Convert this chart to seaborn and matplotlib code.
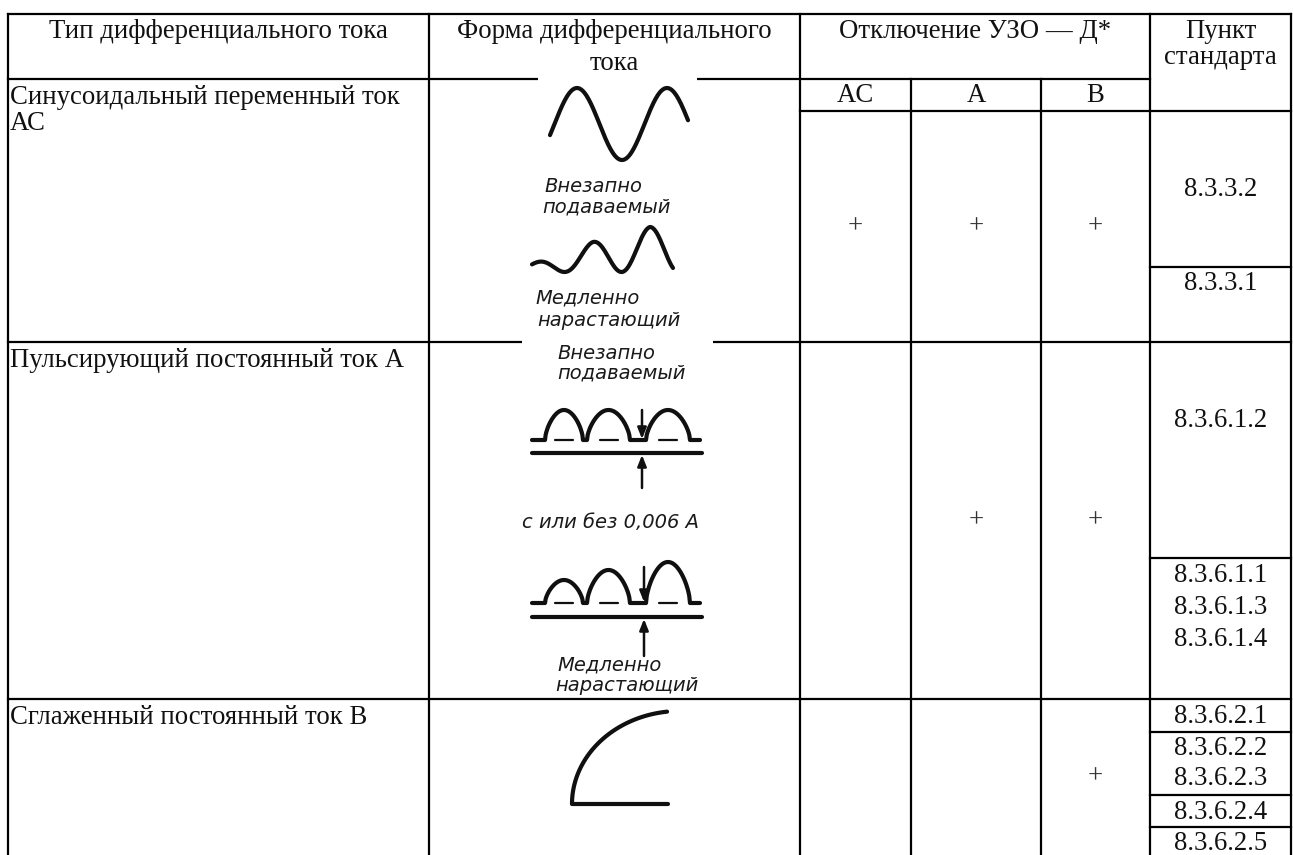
import numpy as np
import pandas as pd
import matplotlib
matplotlib.use("Agg")
import matplotlib.pyplot as plt
from matplotlib.patches import Rectangle
import seaborn as sns

# ---------------- data ----------------
column_headers = ["Тип дифференциального тока", "Форма дифференциального\nтока",
                  "Отключение УЗО — Д*", "Пункт\nстандарта"]
rcd_types = ["AC", "A", "B"]
current_types = ["Синусоидальный переменный ток\nАС",
                 "Пульсирующий постоянный ток А",
                 "Сглаженный постоянный ток В"]
trips_ac = [True, False, False]
trips_a = [True, True, False]
trips_b = [True, True, True]
clauses_sine = ["8.3.3.2", "8.3.3.1"]
clauses_pulsating = ["8.3.6.1.2", "8.3.6.1.1\n8.3.6.1.3\n8.3.6.1.4"]
clauses_smooth = ["8.3.6.2.1", "8.3.6.2.2\n8.3.6.2.3", "8.3.6.2.4", "8.3.6.2.5"]
sudden_label = "Внезапно\nподаваемый"
slow_label = "Медленно\nнарастающий"
dc_label = "с или без 0,006 А"

# ---------------- figure ----------------
sns.set_theme(style="white")
plt.rcParams['font.family'] = ['Liberation Serif', 'DejaVu Serif']

W, H = 1293, 855
fig = plt.figure(figsize=(W / 100, H / 100), dpi=100)
ax = fig.add_axes([0, 0, 1, 1])
ax.set_xlim(0, W)
ax.set_ylim(H, 0)
ax.axis('off')

LW = 1.6
FS = 19.3
TXT = '#111111'

col_x = [8, 429, 800, 911, 1041, 1150, 1291]
y_top, y_head, y_sub, y_r1, y_r2, y_bot = 14, 79, 111, 342, 699, 855


def hline(y, x0, x1, z=2):
    ax.plot([x0, x1], [y, y], color='black', lw=LW, zorder=z, solid_capstyle='projecting')


def vline(x, y0, y1, z=2):
    ax.plot([x, x], [y0, y1], color='black', lw=LW, zorder=z, solid_capstyle='projecting')


# grid
hline(y_top, col_x[0], col_x[6])
hline(y_head, col_x[0], col_x[5])
hline(y_sub, col_x[2], col_x[6])
hline(y_r1, col_x[0], col_x[6])
hline(y_r2, col_x[0], col_x[6])
for x in [col_x[0], col_x[1], col_x[2], col_x[5], col_x[6]]:
    vline(x, y_top, y_bot)
for x in [col_x[3], col_x[4]]:
    vline(x, y_head, y_bot)
# sub-division lines in the "Пункт" column
for y in [267, 558, 732, 795, 827]:
    hline(y, col_x[5], col_x[6])

# white backgrounds of the scanned drawings (they hide parts of the grid)
ax.add_patch(Rectangle((538, 77), 159, 264, facecolor='white', edgecolor='none', zorder=3))
ax.add_patch(Rectangle((522, 340), 191, 357, facecolor='white', edgecolor='none', zorder=3))


def text(x, y, s, ha='center', **kw):
    ax.text(x, y, s, ha=ha, va='center', fontsize=kw.pop('fontsize', FS),
            color=kw.pop('color', TXT), zorder=6, **kw)


def lines(x, y0, s, step, ha='center', **kw):
    for i, part in enumerate(s.split('\n')):
        text(x, y0 + i * step, part, ha=ha, **kw)


# headers
text((col_x[0] + col_x[1]) / 2, 31, column_headers[0])
lines((col_x[1] + col_x[2]) / 2, 31, column_headers[1], 32)
text((col_x[2] + col_x[5]) / 2, 31, column_headers[2])
lines((col_x[5] + col_x[6]) / 2, 31, column_headers[3], 26)
for i, t in enumerate(rcd_types):
    text((col_x[2 + i] + col_x[3 + i]) / 2, (y_head + y_sub) / 2, t)

# row labels
lines(10, 97, current_types[0], 27, ha='left')
text(10, 360, current_types[1], ha='left')
text(10, 717, current_types[2], ha='left')

# trip marks
row_mid = [(y_sub + y_r1) / 2, (y_r1 + y_r2) / 2, 777]
for ci, col in enumerate([trips_ac, trips_a, trips_b]):
    for ri, on in enumerate(col):
        if on:
            text((col_x[2 + ci] + col_x[3 + ci]) / 2, row_mid[ri], '+', color='#333333')

# clauses
cx = (col_x[5] + col_x[6]) / 2
text(cx, 189, clauses_sine[0])
text(cx, 283, clauses_sine[1])
text(cx, 420, clauses_pulsating[0])
lines(cx, 575, clauses_pulsating[1], 32)
text(cx, 716, clauses_smooth[0])
lines(cx, 748, clauses_smooth[1], 30)
text(cx, 812, clauses_smooth[2])
text(cx, 843, clauses_smooth[3])

# ---------------- waveform drawings ----------------
INK = '#101010'
WLW = 3.0


def draw(xs, ys, lw=WLW):
    df = pd.DataFrame({'x': xs, 'y': ys})
    sns.lineplot(data=df, x='x', y='y', sort=False, estimator=None, ax=ax,
                 color=INK, lw=lw, zorder=5, legend=False)


def ital(x, y, s, fs=14):
    ax.text(x, y, s, ha='left', va='center', fontsize=fs, color='#1a1a1a',
            family=['DejaVu Sans'], style='italic', zorder=6)


# suddenly applied sine
xs = np.linspace(550, 688, 200)
ys = 124 - 36 * np.sin(2 * np.pi * (xs - 554.5) / 90)
draw(xs, ys)
ital(544, 187, "Внезапно")
ital(542, 207, "подаваемый")

# slowly rising sine
xs = np.linspace(532, 673, 200)
amp = np.interp(xs, [532, 593, 650, 673], [8, 30, 45, 45])
ys = 272 - amp * (1 + np.cos(2 * np.pi * (xs - 593) / 57)) / 2
draw(xs, ys)
ital(535, 298, "Медленно")
ital(537, 320, "нарастающий")


def rectified(base, humps, heights, x0, x1):
    px, py = [x0], [base]
    for (a, b), h in zip(humps, heights):
        px.append(a); py.append(base)
        t = np.linspace(0, 1, 60)
        px.extend(a + (b - a) * t)
        py.extend(base - h * np.sin(np.pi * t) ** 0.6)
        px.append(b); py.append(base)
    px.append(x1); py.append(base)
    draw(np.array(px), np.array(py))
    for (a, b) in humps:
        c = (a + b) / 2
        ax.plot([c - 9, c + 9], [base, base], color=INK, lw=1.6, zorder=5)


def arrow(x, y_from, y_to):
    ax.annotate('', xy=(x, y_to), xytext=(x, y_from), zorder=5,
                arrowprops=dict(arrowstyle='-|>,head_length=0.55,head_width=0.22',
                                lw=1.8, color=INK, shrinkA=0, shrinkB=0))


humps = [(545, 583), (587, 630), (646, 690)]
# suddenly applied pulsating DC
ital(557, 353, "Внезапно")
ital(557, 373, "подаваемый")
rectified(440, humps, [30, 30, 30], 532, 700)
ax.plot([532, 702], [453, 453], color=INK, lw=3.0, zorder=5)
arrow(642, 410, 439)
arrow(642, 488, 455)
ital(522, 522, dc_label)

# slowly rising pulsating DC
rectified(603, humps, [23, 33, 41], 532, 700)
ax.plot([532, 702], [617, 617], color=INK, lw=3.0, zorder=5)
arrow(644, 567, 602)
arrow(644, 656, 619)
ital(557, 665, "Медленно")
ital(555, 685, "нарастающий")

# smooth DC: quarter arc
theta = np.linspace(np.pi, np.pi / 2 + 0.12, 120)
xs = np.concatenate([[668], [572], 680 + 108 * np.cos(theta)])
ys = np.concatenate([[804], [804], 804 - 93 * np.sin(theta)])
draw(xs, ys)

fig.savefig('out.png', dpi=100)
